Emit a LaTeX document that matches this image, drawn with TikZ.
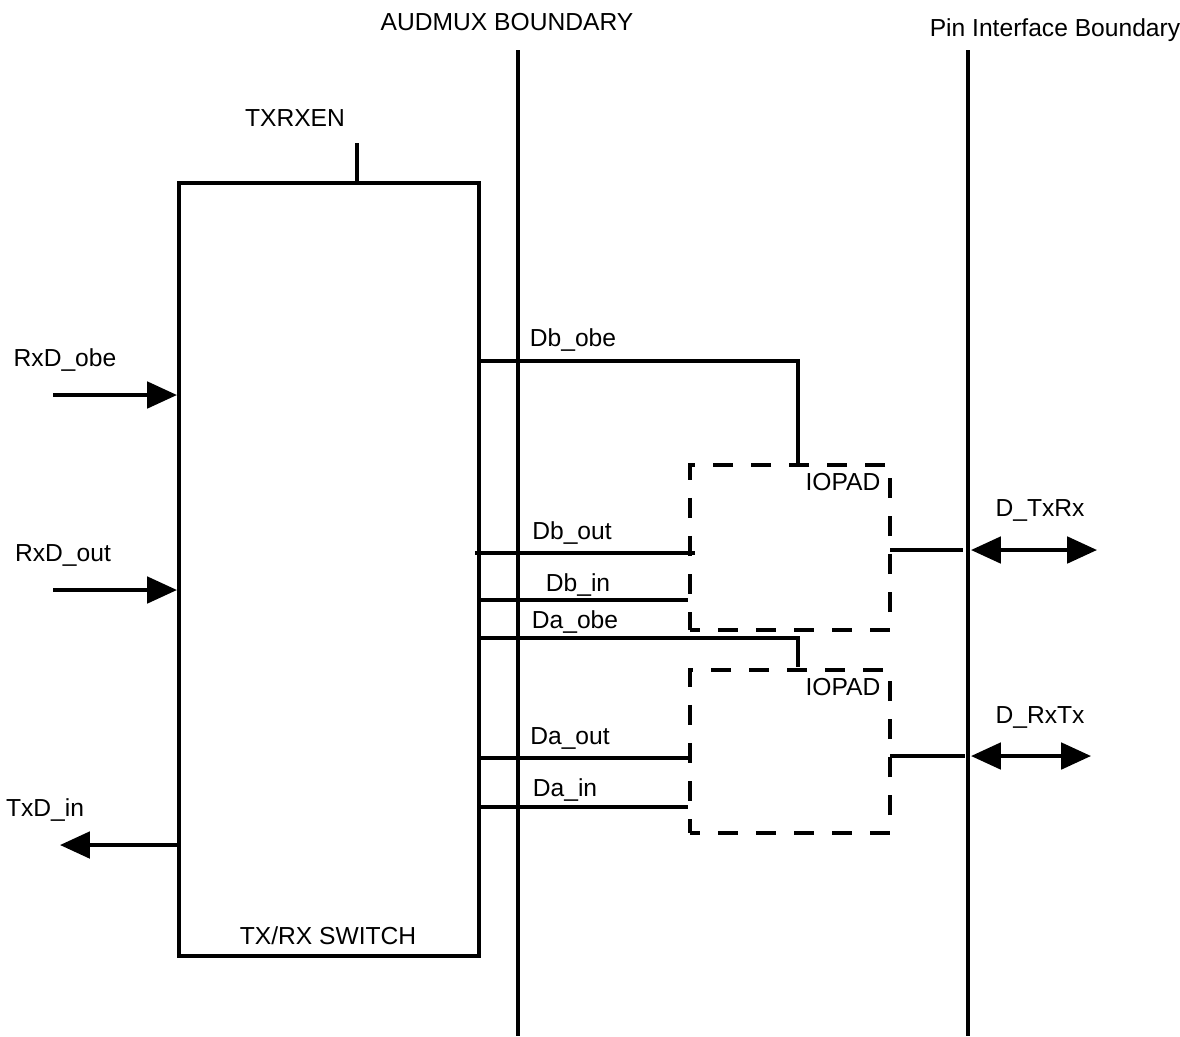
\documentclass[tikz,border=0pt]{standalone}
\usepackage{fontspec}
\setmainfont{Liberation Sans}
\usetikzlibrary{arrows.meta}
\begin{document}
\begin{tikzpicture}[x=0.01cm,y=-0.01cm,
  wire/.style={line width=1.1pt},
  sig/.style={wire,-{Triangle[length=8.5pt,width=7.5pt]}},
  bisig/.style={wire,{Triangle[length=8.5pt,width=7.5pt]}-{Triangle[length=8.5pt,width=7.5pt]}},
  lbl/.style={inner sep=0pt,font=\fontsize{7}{8}\selectfont},
  padbox/.style={draw,line width=1.1pt,dash pattern=on 0.2cm off 0.18cm,dash phase=0.1cm,minimum width=2cm,inner sep=0pt},
  swbox/.style={draw,line width=1.1pt,minimum width=3cm,minimum height=7.73cm,inner sep=0pt}]
\useasboundingbox (0,0) rectangle (1180,1036);
% boundaries
\coordinate (audT) at (518,50); \coordinate (audB) at (518,1036);
\coordinate (pinT) at (968,50); \coordinate (pinB) at (968,1036);
\draw[wire] (audT) -- (audB);
\draw[wire] (pinT) -- (pinB);
\node[lbl] (audl) at (507,22) {AUDMUX BOUNDARY};
\node[lbl] (pinl) at (1055,30) {Pin Interface Boundary};
% switch
\node[swbox] (sw) at (329,569.5) {};
\node[lbl] (swl) at (328,936) {TX/RX SWITCH};
\coordinate (en) at (357,143);
\draw[wire] (en) -- (en |- sw.north);
\node[lbl] (enl) at (295,118) {TXRXEN};
% left signals
\coordinate (rxobe) at (53,395);
\coordinate (rxout) at (53,590);
\coordinate (txin) at (60,845);
\draw[sig] (rxobe) -- (rxobe -| sw.west);
\draw[sig] (rxout) -- (rxout -| sw.west);
\draw[sig] (txin -| sw.west) -- (txin);
\node[lbl] (rxobel) at (65,360) {RxD\_obe};
\node[lbl] (rxoutl) at (63,555) {RxD\_out};
\node[lbl] (txinl) at (45,810) {TxD\_in};
% IOPADs
\node[padbox,minimum height=1.65cm] (pad1) at (790,547.5) {};
\node[padbox,minimum height=1.63cm] (pad2) at (790,751.5) {};
\node[lbl] (pad1l) at (843,482) {IOPAD};
\node[lbl] (pad2l) at (843,687) {IOPAD};
% Db_obe
\coordinate (dbobe) at (479,361);
\coordinate (dbobeE) at (798,465);
\draw[wire] (dbobe) -| (dbobeE);
\node[lbl] (dbobel) at (573,340) {Db\_obe};
% Db_out
\coordinate (dbout) at (475,553);
\draw[wire] (dbout) -- (695,553);
\node[lbl] (dboutl) at (572,533) {Db\_out};
% Db_in
\coordinate (dbin) at (479,600);
\draw[wire] (dbin) -- (dbin -| pad1.west);
\node[lbl] (dbinl) at (578,585) {Db\_in};
% Da_obe
\coordinate (daobe) at (479,638);
\coordinate (daobeE) at (798,667);
\draw[wire] (daobe) -| (daobeE);
\node[lbl] (daobel) at (575,622) {Da\_obe};
% Da_out
\coordinate (daout) at (479,758);
\draw[wire] (daout) -- (daout -| pad2.west);
\node[lbl] (daoutl) at (570,738) {Da\_out};
% Da_in
\coordinate (dain) at (479,807);
\draw[wire] (dain) -- (dain -| pad2.west);
\node[lbl] (dainl) at (565,790) {Da\_in};
% right side
\coordinate (p1) at (890,550);
\coordinate (p2) at (890,756);
\draw[wire] (p1) -- (963,550);
\draw[wire] (p2) -- (965,756);
\coordinate (d1a) at (971,550); \coordinate (d1b) at (1097,550);
\coordinate (d2a) at (971,756); \coordinate (d2b) at (1091,756);
\draw[bisig] (d1a) -- (d1b);
\draw[bisig] (d2a) -- (d2b);
\node[lbl] (d1l) at (1040,510) {D\_TxRx};
\node[lbl] (d2l) at (1040,717) {D\_RxTx};
\end{tikzpicture}
\end{document}
